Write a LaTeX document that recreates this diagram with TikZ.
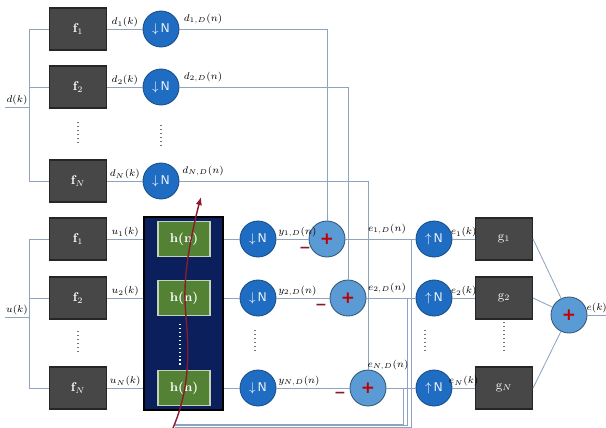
\documentclass[tikz,border=0pt]{standalone}
\usepackage{fontspec}
\newfontfamily\signfont{DejaVu Sans}
\usetikzlibrary{hobby,arrows.meta,calc,positioning}
\definecolor{wiregrey}{HTML}{8FA3BF}
\definecolor{boxgrey}{HTML}{474747}
\definecolor{samplerblue}{HTML}{1F6DC2}
\definecolor{sumblue}{HTML}{5B9BD5}
\definecolor{navyblock}{HTML}{0B1F5C}
\definecolor{hgreen}{HTML}{548235}
\definecolor{plusred}{HTML}{C00000}
\definecolor{curvered}{HTML}{8B1A2B}
\tikzset{
    filter box/.style={
        draw=black!85, fill=boxgrey, line width=0.8pt,
        minimum width=1.425cm, minimum height=1.05cm,
        text=white, font=\small\bfseries
    },
    sampler/.style={
        circle, draw=samplerblue!70!black, fill=samplerblue, line width=0.6pt,
        minimum size=0.9cm, inner sep=0pt,
        text=white, font=\small\sffamily
    },
    sum node/.style={
        circle, draw=sumblue!55!black, fill=sumblue, line width=0.6pt,
        minimum size=0.9cm, inner sep=0pt,
        text=plusred, font=\signfont\bfseries\large
    },
    adaptive block/.style={
        draw=black, fill=navyblock, line width=0.8pt,
        minimum width=1.975cm, minimum height=4.825cm
    },
    h box/.style={
        draw=hgreen!35!white, fill=hgreen, line width=0.8pt,
        minimum width=1.3cm, minimum height=0.875cm,
        text=white, font=\small\bfseries
    },
    signal/.style={draw=wiregrey, line width=0.6pt},
    signal label/.style={font=\fontsize{7.5}{9}\selectfont, inner sep=1pt},
    minus sign/.style={text=curvered, font=\signfont\bfseries, inner sep=0pt},
    row dots/.style={dotted, line width=0.8pt, draw=black!55},
    adapt arrow/.style={draw=curvered, line width=1pt, -{Latex[length=2mm,width=1.6mm]}}
}

\begin{document}
\begin{tikzpicture}[x=0.025cm, y=-0.025cm, use Hobby shortcut]
    \useasboundingbox (0,0) rectangle (606,428);

    % adaptive filter bank and error path
    \node[adaptive block] (adapt) at (183.5,313.5) {};
    \foreach \i/\y in {1/239, 2/298, N/388} {
        \node[filter box] (fu\i) at (78,\y) {f$_{\i}$};
        \node[h box] (h\i) at (184,\y) {h(n)};
        \node[sampler] (dy\i) at (258,\y) {$\downarrow$\,N};
        \node[sampler] (up\i) at (434,\y) {$\uparrow$\,N};
        \node[filter box, font=\small] (g\i) at (504,\y) {g$_{\i}$};
    }
    \node[sum node] (s1) at (327,239) {+};
    \node[sum node] (s2) at (348,298) {+};
    \node[sum node] (sN) at (368,388) {+};
    \node[sum node] (final sum) at (569,315) {+};

    \node[minus sign] (m1) at (305,250) {−};
    \node[minus sign] (m2) at (321,307) {−};
    \node[minus sign] (mN) at (340,395) {−};

    % desired signal bank
    \coordinate (d in) at (5,107);
    \coordinate (d bus) at (29,107);
    \draw[signal] (d in) -- node[signal label, above] (l d) {$d(k)$} (d bus);
    \foreach \i/\y in {1/29, 2/87, N/181} {
        \node[filter box] (fd\i) at (78,\y) {f$_{\i}$};
        \node[sampler] (dd\i) at (161,\y) {$\downarrow$\,N};
        \draw[signal] (fd\i) -| (d bus);
        \draw[signal] (fd\i) -- node[signal label, above] (l d\i) {$d_{\i}(k)$} (dd\i);
        \draw[signal] (dd\i) -| (s\i);
        \node[signal label] (l d\i D) at (203,\y-10) {$d_{\i,D}(n)$};
    }

    % input signal bank
    \coordinate (u in) at (5,317);
    \coordinate (u bus) at (29,317);
    \draw[signal] (u in) -- node[signal label, above] (l u) {$u(k)$} (u bus);
    \foreach \i/\x/\ey in {1/411/427, 2/407/425.5, N/403/424} {
        \draw[signal] (fu\i) -| (u bus);
        \draw[signal] (fu\i) -- node[signal label, above] (l u\i) {$u_{\i}(k)$} (fu\i -| adapt.west);
        \draw[signal] (adapt.east |- dy\i) -- (dy\i);
        \draw[signal] (dy\i) -- node[signal label, pos=0, above right] (l y\i) {$y_{\i,D}(n)$} (s\i);
        \draw[signal] (s\i) -- (up\i);
        \draw[signal] (up\i) -- node[signal label, above] (l e\i) {$e_{\i}(k)$} (g\i);
        \draw[signal] (g\i.east) -- (final sum);
        % error fed back to the adaptive block
        \coordinate (tap\i) at (\x,0 |- s\i);
        \coordinate (fb\i) at (175,\ey);
        \draw[signal] (tap\i) |- (fb\i);
    }
    \node[signal label] (l e1D) at (387,229) {$e_{1,D}(n)$};
    \node[signal label] (l e2D) at (387,288) {$e_{2,D}(n)$};
    \node[signal label] (l eND) at (388,365) {$e_{N,D}(n)$};

    \coordinate (e out) at (606,315);
    \draw[signal] (final sum) -- node[signal label, above] (l e) {$e(k)$} (e out);

    % vertical dots
    \draw[row dots] (78,122) -- (78,142);
    \draw[row dots] (161,125) -- (161,146);
    \draw[row dots] (78,331) -- (78,351);
    \draw[row dots, draw=white!80] (180,324) -- (180,366);
    \draw[row dots] (255,330) -- (255,352);
    \draw[row dots] (425,330) -- (425,352);
    \draw[row dots] (504,322) -- (504,350);

    \draw[adapt arrow] (173,428) .. (185,387) .. (187,330) .. (185,300) .. (191,240) .. (201,197);
\end{tikzpicture}
\end{document}
